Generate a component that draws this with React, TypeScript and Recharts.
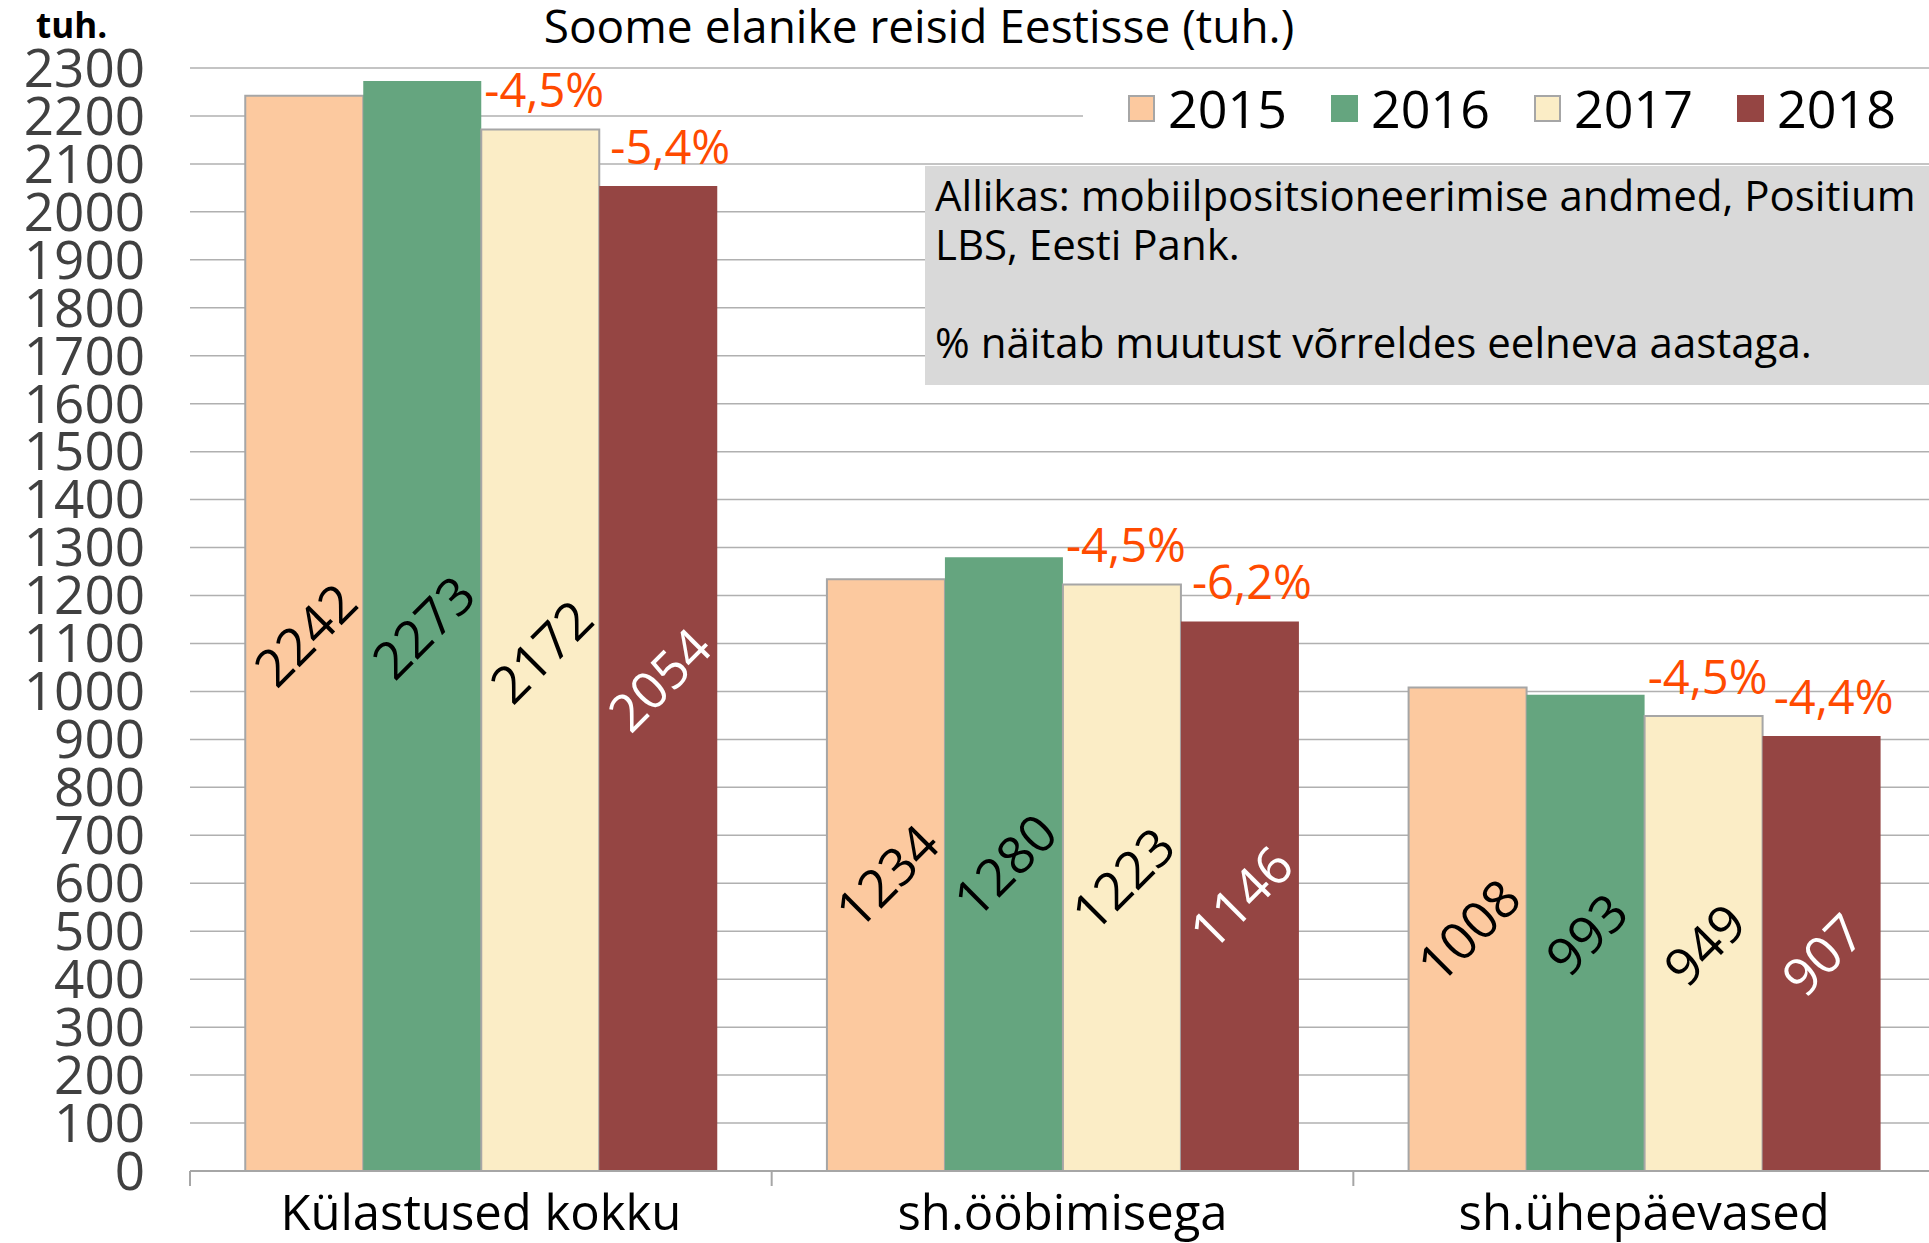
import React from 'react';
import { BarChart, Bar, XAxis, YAxis, CartesianGrid, LabelList } from 'recharts';

const FONT = '"Open Sans", sans-serif';

const categories = ['Külastused kokku', 'sh.ööbimisega', 'sh.ühepäevased'];
const years = ['2015', '2016', '2017', '2018'];
const v2015 = [2242, 1234, 1008];
const v2016 = [2273, 1280, 993];
const v2017 = [2172, 1223, 949];
const v2018 = [2054, 1146, 907];
const pct2017 = ['-4,5%', '-4,5%', '-4,5%'];
const pct2018 = ['-5,4%', '-6,2%', '-4,4%'];
const yTicks = [
  0, 100, 200, 300, 400, 500, 600, 700, 800, 900, 1000, 1100,
  1200, 1300, 1400, 1500, 1600, 1700, 1800, 1900, 2000, 2100, 2200, 2300,
];

const COLORS: Record<string, string> = {
  '2015': '#FCC99F',
  '2016': '#65A57F',
  '2017': '#FBEDC6',
  '2018': '#954543',
};
const BORDER: Record<string, string | undefined> = {
  '2015': '#A6A6A6',
  '2016': undefined,
  '2017': '#A6A6A6',
  '2018': undefined,
};
const LABEL_COLOR: Record<string, string> = {
  '2015': '#000',
  '2016': '#000',
  '2017': '#000',
  '2018': '#fff',
};

const data = categories.map((name, i) => ({
  name,
  y2015: v2015[i],
  y2016: v2016[i],
  y2017: v2017[i],
  y2018: v2018[i],
}));

const CategoryTick = (props: any) => {
  const { x, y, payload } = props;
  const half = payload?.offset ?? 0;
  return (
    <g>
      <line x1={x - half} x2={x - half} y1={y} y2={y + 15} stroke="#A6A6A6" strokeWidth={2} />
      <text x={x} y={y + 59} textAnchor="middle" fontSize={49} fill="#000" fontFamily={FONT}>
        {payload.value}
      </text>
    </g>
  );
};

const rotatedLabel = (color: string) => (props: any) => {
  const { x, y, width, height, value } = props;
  const cx = x + width / 2;
  const cy = y + height / 2;
  return (
    <text
      x={cx}
      y={cy}
      transform={`rotate(-45 ${cx} ${cy})`}
      textAnchor="middle"
      dominantBaseline="central"
      fontSize={52}
      fill={color}
      fontFamily={FONT}
    >
      {value}
    </text>
  );
};

const pctLabel = (labels: string[], dx: number) => (props: any) => {
  const { x, y, width, index } = props;
  return (
    <text
      x={x + width / 2 + dx}
      y={y - 22}
      textAnchor="middle"
      fontSize={47}
      fill="#FF4A00"
      fontFamily={FONT}
    >
      {labels[index]}
    </text>
  );
};

export default function App() {
  return (
    <div
      style={{
        position: 'absolute',
        left: 0,
        top: 0,
        width: 1929,
        height: 1243,
        background: '#fff',
        fontFamily: FONT,
        overflow: 'hidden',
      }}
    >
      <BarChart
        width={1929}
        height={1243}
        data={data}
        margin={{ top: 68, right: -6, bottom: 0, left: 0 }}
        barCategoryGap="9.5%"
        barGap={0}
      >
        <CartesianGrid horizontal vertical={false} stroke="#B0B0B0" strokeWidth={1.5} />
        <XAxis
          dataKey="name"
          height={72}
          axisLine={{ stroke: '#A6A6A6', strokeWidth: 2 }}
          tickLine={false}
          tickSize={0}
          tickMargin={0}
          tick={<CategoryTick />}
          interval={0}
        />
        <YAxis
          width={190}
          domain={[0, 2300]}
          ticks={yTicks}
          interval={0}
          axisLine={false}
          tickLine={false}
          tickSize={0}
          tickMargin={45}
          tick={{ fill: '#404040', fontSize: 53, fontFamily: FONT }}
        />
        {years.map((yr) => (
          <Bar
            key={yr}
            dataKey={`y${yr}`}
            fill={COLORS[yr]}
            stroke={BORDER[yr]}
            strokeWidth={BORDER[yr] ? 2 : 0}
            isAnimationActive={false}
          >
            <LabelList dataKey={`y${yr}`} content={rotatedLabel(LABEL_COLOR[yr])} />
            {yr === '2017' && <LabelList dataKey="y2017" content={pctLabel(pct2017, 4)} />}
            {yr === '2018' && <LabelList dataKey="y2018" content={pctLabel(pct2018, 12)} />}
          </Bar>
        ))}
      </BarChart>

      <div
        style={{
          position: 'absolute',
          left: 0,
          top: 0,
          width: 1838,
          textAlign: 'center',
          fontSize: 46,
          lineHeight: '50px',
          color: '#000',
          whiteSpace: 'nowrap',
        }}
      >
        Soome elanike reisid Eestisse (tuh.)
      </div>
      <div
        style={{
          position: 'absolute',
          left: 36,
          top: 0,
          fontSize: 35,
          fontWeight: 700,
          lineHeight: '50px',
          color: '#000',
        }}
      >
        tuh.
      </div>

      <div
        style={{
          position: 'absolute',
          left: 1083,
          top: 72,
          width: 846,
          height: 84,
          background: '#fff',
        }}
      >
        {years.map((yr, i) => (
          <div
            key={yr}
            style={{
              position: 'absolute',
              left: 45 + i * 203,
              top: 4,
              display: 'flex',
              alignItems: 'center',
              height: 64,
            }}
          >
            <span
              style={{
                display: 'inline-block',
                width: 27,
                height: 27,
                background: COLORS[yr],
                boxSizing: 'border-box',
                border: BORDER[yr] ? `2px solid ${BORDER[yr]}` : 'none',
                marginRight: 13,
              }}
            />
            <span style={{ fontSize: 52, color: '#000', lineHeight: '64px' }}>{yr}</span>
          </div>
        ))}
      </div>

      <div
        style={{
          position: 'absolute',
          left: 925,
          top: 166,
          width: 1004,
          height: 219,
          background: '#D9D9D9',
          boxSizing: 'border-box',
          padding: '4px 0 0 10px',
          fontSize: 42,
          lineHeight: '49px',
          color: '#000',
          whiteSpace: 'nowrap',
        }}
      >
        <div>Allikas: mobiilpositsioneerimise andmed, Positium</div>
        <div>LBS, Eesti Pank.</div>
        <div>&nbsp;</div>
        <div>% näitab muutust võrreldes eelneva aastaga.</div>
      </div>
    </div>
  );
}
